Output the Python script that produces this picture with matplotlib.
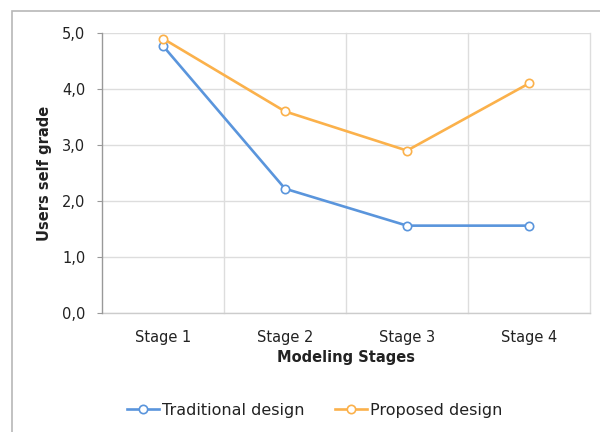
import matplotlib
matplotlib.use("Agg")
import matplotlib.pyplot as plt
from matplotlib.patches import Rectangle

categories = ["Stage 1", "Stage 2", "Stage 3", "Stage 4"]
traditional = [4.77, 2.22, 1.56, 1.56]
proposed = [4.9, 3.6, 2.9, 4.1]
yticks = [0.0, 1.0, 2.0, 3.0, 4.0, 5.0]
ytick_labels = ["0,0", "1,0", "2,0", "3,0", "4,0", "5,0"]

plt.rcParams['font.family'] = ['DejaVu Sans']

fig = plt.figure(figsize=(6, 4.32), dpi=100)
fig.patch.set_facecolor("white")
# outer border box
fig.patches.append(Rectangle((12/600, -0.2), 1.2, 1 - 11/432 + 0.2, transform=fig.transFigure,
                             facecolor="none", edgecolor="#b8b8b8", linewidth=1.2))

ax = fig.add_axes([102/600, 1 - 313/432, 488/600, 280/432])
x = list(range(len(categories)))
blue = "#5a95dc"
orange = "#fbb14b"
ax.plot(x, traditional, color=blue, lw=1.9, marker="o", ms=6, mfc="white", mec=blue, mew=1.2,
        label="Traditional design", zorder=3)
ax.plot(x, proposed, color=orange, lw=1.9, marker="o", ms=6, mfc="white", mec=orange, mew=1.2,
        label="Proposed design", zorder=3)

ax.set_xlim(-0.5, len(categories) - 0.5)
ax.set_ylim(0, 5)
ax.set_xticks(x)
ax.set_xticklabels(categories, fontsize=10.5, color="#222222")
ax.set_yticks(yticks)
ax.set_yticklabels(ytick_labels, fontsize=10.5, color="#222222")
ax.tick_params(axis="x", length=0, pad=12)
ax.tick_params(axis="y", length=3.6, color="#999999", pad=8.5)
ax.grid(True, axis="y", color="#dddddd", lw=1)
for b in [i + 0.5 for i in range(len(categories))]:
    ax.axvline(b, color="#dddddd", lw=1, clip_on=False, zorder=0.5)
ax.axhline(0, color="#cccccc", lw=1, clip_on=False, zorder=0.5)
ax.set_axisbelow(True)
for s in ["top", "right", "bottom"]:
    ax.spines[s].set_visible(False)
ax.spines["left"].set_color("#999999")
ax.spines["left"].set_linewidth(1)

ax.set_xlabel("Modeling Stages", fontsize=10.5, fontweight="bold", color="#222222", labelpad=4)
ax.set_ylabel("Users self grade", fontsize=10.5, fontweight="bold", color="#222222", labelpad=7)

fig.legend(loc="center", bbox_to_anchor=(315/600, 1 - 410/432), ncol=2, frameon=False,
           fontsize=11.5, handlelength=2.0, columnspacing=1.9, handletextpad=0.2,
           labelcolor="#222222")

fig.savefig("out.png", dpi=100)
